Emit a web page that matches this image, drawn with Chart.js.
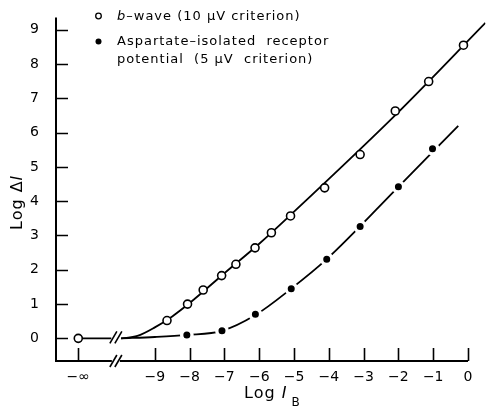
<!DOCTYPE html>
<html>
<head>
<meta charset="utf-8">
<script src="https://cdn.jsdelivr.net/npm/chart.js@4"></script>
<style>
  body { margin: 0; background: #fff; }
  #wrap { width: 494px; height: 412px; }
</style>
</head>
<body>
<div id="wrap"><canvas id="graph"></canvas></div>
<script>
// axis position used for the "-infinity" background level
const NEG_INF = -11.2;

// x tick positions (log background intensity)
const xTicks = [NEG_INF, -9, -8, -7, -6, -5, -4, -3, -2, -1, 0];
const yTicks = [0, 1, 2, 3, 4, 5, 6, 7, 8, 9];

// b-wave, 10 uV criterion (open circles)
const bWaveLogIB = [NEG_INF, -8.65, -8.06, -7.61, -7.08, -6.67, -6.12, -5.65, -5.1, -4.12, -3.1, -2.09, -1.13, -0.13];
const bWaveLogDI = [0, 0.52, 1.0, 1.41, 1.83, 2.16, 2.64, 3.08, 3.57, 4.39, 5.36, 6.63, 7.49, 8.55];

// aspartate-isolated receptor potential, 5 uV criterion (filled dots)
const aspLogIB = [-8.08, -7.07, -6.11, -5.08, -4.06, -3.1, -2.0, -1.02];
const aspLogDI = [0.1, 0.22, 0.7, 1.45, 2.31, 3.26, 4.42, 5.53];

// fitted template curves, traced along their path (null = axis break)
const bWaveCurveX = [NEG_INF, -10.25, -10.1, -9.97, -9.5, -9.0, -8.5, -8.0, -7.0, -6.0, -5.1, -2.0, 0.5];
const bWaveCurveY = [0, 0, null, 0, 0.07, 0.32, 0.64, 1.03, 1.9, 2.76, 3.6, 6.6, 9.2];
const aspCurveX = [-9.97, -9.0, -8.08, -7.07, -6.11, -5.08, -4.06, -2.0, -0.28];
const aspCurveY = [0.0, 0.04, 0.1, 0.22, 0.68, 1.45, 2.31, 4.42, 6.2];

const BREAK_X = -10.12;
const FONT = '"DejaVu Sans", sans-serif';

function pairs(xs, ys) {
    return xs.map((x, i) => ({ x: x, y: ys[i] }));
}

function minus(v) {
    return String(v).replace('-', '\u2212');
}

// draws a text run made of [text, italic] parts, returns end x
function drawParts(ctx, parts, x, y, size) {
    parts.forEach(p => {
        ctx.font = (p[1] ? 'italic ' : '') + size + 'px ' + FONT;
        ctx.fillText(p[0], x, y);
        x += ctx.measureText(p[0]).width;
    });
    return x;
}

function breakMark(ctx, x, y) {
    ctx.save();
    ctx.strokeStyle = '#000';
    ctx.lineWidth = 1.6;
    [-2.5, 2.5].forEach(d => {
        ctx.beginPath();
        ctx.moveTo(x + d - 3.5, y + 6);
        ctx.lineTo(x + d + 3.5, y - 6);
        ctx.stroke();
    });
    ctx.restore();
}

// axes with inward ticks, the break marks, legend and axis titles
const frame = {
    id: 'frame',
    afterDraw(chart) {
        const ctx = chart.ctx;
        const xs = chart.scales.x, ys = chart.scales.y;
        const a = chart.chartArea;
        const bx = xs.getPixelForValue(BREAK_X);
        const x0 = xs.getPixelForValue(0);

        ctx.save();
        ctx.strokeStyle = '#000';
        ctx.lineWidth = 2;
        ctx.lineCap = 'butt';
        ctx.beginPath();
        ctx.moveTo(a.left, a.top);
        ctx.lineTo(a.left, a.bottom);
        ctx.lineTo(bx - 4, a.bottom);
        ctx.moveTo(bx + 4, a.bottom);
        ctx.lineTo(x0, a.bottom);
        ctx.stroke();

        ctx.lineWidth = 1.6;
        ctx.beginPath();
        xTicks.forEach(v => {
            const px = Math.round(xs.getPixelForValue(v)) + 0.5;
            ctx.moveTo(px, a.bottom);
            ctx.lineTo(px, a.bottom - 13);
        });
        yTicks.forEach(v => {
            const py = Math.round(ys.getPixelForValue(v)) + 0.5;
            ctx.moveTo(a.left, py);
            ctx.lineTo(a.left + 12, py);
        });
        ctx.stroke();

        const cy = ys.getPixelForValue(0);
        breakMark(ctx, bx, a.bottom);
        breakMark(ctx, bx, cy - 1);

        // legend
        ctx.fillStyle = '#000';
        ctx.textBaseline = 'middle';
        ctx.textAlign = 'left';
        ctx.letterSpacing = '1px';
        ctx.lineWidth = 1.3;
        ctx.beginPath();
        ctx.arc(98.5, 16, 2.8, 0, Math.PI * 2);
        ctx.stroke();
        ctx.beginPath();
        ctx.arc(98.5, 41.5, 3, 0, Math.PI * 2);
        ctx.fill();
        drawParts(ctx, [['b', true], ['\u2013wave (10 \u03bcV criterion)', false]], 117, 17, 13);
        drawParts(ctx, [['Aspartate\u2013isolated  receptor', false]], 117, 42, 13);
        drawParts(ctx, [['potential  (5 \u03bcV  criterion)', false]], 117, 60, 13);

        // x title
        let tx = drawParts(ctx, [['Log ', false], ['I', true]], 244, 394, 16);
        ctx.font = '12px ' + FONT;
        ctx.fillText('B', tx + 4, 403);

        // y title
        ctx.translate(18, 230);
        ctx.rotate(-Math.PI / 2);
        drawParts(ctx, [['Log \u0394', false], ['I', true]], 0, 0, 16);
        ctx.restore();
    }
};

new Chart(document.getElementById('graph'), {
    type: 'scatter',
    data: {
        datasets: [
            {
                label: 'b-wave (10 \u03bcV criterion)',
                data: pairs(bWaveLogIB, bWaveLogDI),
                pointRadius: 4,
                pointBorderWidth: 1.6,
                pointBackgroundColor: '#fff',
                pointBorderColor: '#000',
                order: 0
            },
            {
                label: 'Aspartate-isolated receptor potential (5 \u03bcV criterion)',
                data: pairs(aspLogIB, aspLogDI),
                pointRadius: 5.2,
                pointBorderWidth: 3.4,
                pointBackgroundColor: '#000',
                pointBorderColor: '#fff',
                order: 0
            },
            {
                label: 'b-wave fit',
                data: pairs(bWaveCurveX, bWaveCurveY),
                showLine: true,
                pointRadius: 0,
                borderColor: '#000',
                borderWidth: 1.8,
                cubicInterpolationMode: 'monotone',
                spanGaps: false,
                order: 1
            },
            {
                label: 'receptor potential fit',
                data: pairs(aspCurveX, aspCurveY),
                showLine: true,
                pointRadius: 0,
                borderColor: '#000',
                borderWidth: 1.8,
                cubicInterpolationMode: 'monotone',
                order: 1
            }
        ]
    },
    options: {
        responsive: true,
        maintainAspectRatio: false,
        animation: false,
        layout: { padding: { top: 5, right: 0, left: 0, bottom: 0 } },
        plugins: {
            legend: { display: false },
            tooltip: { enabled: false }
        },
        scales: {
            x: {
                type: 'linear',
                min: -11.84,
                max: 0.5,
                grid: { display: false },
                border: { display: false },
                afterBuildTicks: s => { s.ticks = xTicks.map(v => ({ value: v })); },
                afterFit: s => { s.height = 51; },
                ticks: {
                    color: '#000',
                    padding: 0,
                    maxRotation: 0,
                    font: { family: FONT, size: 14 },
                    callback: v => v === NEG_INF ? '\u2212\u221e' : minus(v)
                }
            },
            y: {
                min: -0.66,
                max: 9.36,
                grid: { display: false },
                border: { display: false },
                afterBuildTicks: s => { s.ticks = yTicks.map(v => ({ value: v })); },
                afterFit: s => { s.width = 56; },
                ticks: {
                    color: '#000',
                    padding: 9,
                    font: { family: FONT, size: 14 },
                    callback: v => String(v)
                }
            }
        }
    },
    plugins: [frame]
});
</script>
</body>
</html>
